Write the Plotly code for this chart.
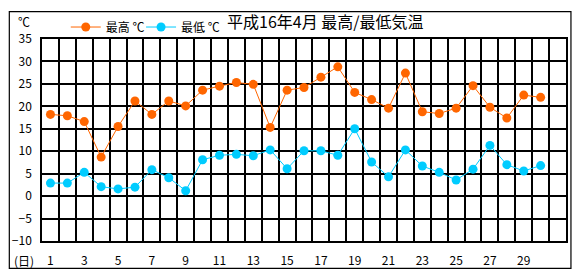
import plotly.graph_objects as go

days = list(range(1, 31))
highs = [18.2, 17.9, 16.6, 8.7, 15.5, 21.2, 18.2, 21.2, 20.1, 23.6,
         24.5, 25.3, 24.9, 15.3, 23.6, 24.2, 26.5, 28.8, 23.1, 21.5,
         19.6, 27.4, 18.8, 18.4, 19.6, 24.6, 19.8, 17.4, 22.5, 22.0]
lows = [2.9, 2.9, 5.3, 2.1, 1.6, 2.0, 5.9, 4.1, 1.2, 8.1,
        9.1, 9.3, 9.0, 10.3, 6.1, 10.1, 10.1, 9.1, 15.0, 7.6,
        4.3, 10.3, 6.7, 5.3, 3.6, 6.0, 11.3, 7.0, 5.6, 6.8]
x_tick_vals = list(range(1, 30, 2))
y_tick_vals = list(range(-10, 36, 5))
series_names = ["最高 ℃", "最低 ℃"]
title_text = "平成16年4月 最高/最低気温"

FONT = "Noto Sans CJK JP"
W, H = 580, 280
L, R, T, B = 38, 13, 37, 37
pw, ph = W - L - R, H - T - B

def px_to_paper_x(px):
    return (px - L) / pw

def px_to_paper_y(py):
    return (H - B - py) / ph

fig = go.Figure()
fig.add_trace(go.Scatter(x=days, y=highs, name=series_names[0], mode="lines+markers",
                         line=dict(color="#FF6600", width=1),
                         marker=dict(color="#FF6600", size=9, symbol="circle"),
                         legend="legend"))
fig.add_trace(go.Scatter(x=days, y=lows, name=series_names[1], mode="lines+markers",
                         line=dict(color="#00CCFF", width=1),
                         marker=dict(color="#00CCFF", size=9, symbol="circle"),
                         legend="legend2"))

leg_common = dict(orientation="h", xanchor="left", yanchor="top",
                  font=dict(family=FONT, size=12, color="black"),
                  bgcolor="rgba(0,0,0,0)", itemwidth=30)

fig.update_layout(
    width=W, height=H,
    margin=dict(l=L, r=R, t=T, b=B, pad=0),
    paper_bgcolor="white", plot_bgcolor="white",
    font=dict(family=FONT, size=12, color="black"),
    showlegend=True,
    legend=dict(x=px_to_paper_x(62), y=px_to_paper_y(10), **leg_common),
    legend2=dict(x=px_to_paper_x(138), y=px_to_paper_y(10), **leg_common),
    xaxis=dict(range=[0.5, 31.5], tickmode="array", tickvals=x_tick_vals,
               ticktext=[str(v) for v in x_tick_vals], showgrid=False,
               zeroline=False, ticks="", showline=True, linecolor="black",
               linewidth=1.5, mirror=True, ticklabelstandoff=8,
               tickfont=dict(family=FONT, size=12),
               minor=dict(tick0=0.5, dtick=1, showgrid=True,
                          gridcolor="black", gridwidth=1.5, ticks="")),
    yaxis=dict(range=[-10, 35], tickmode="array", tickvals=y_tick_vals,
               showgrid=True, gridcolor="black", gridwidth=1.5,
               zeroline=False, ticks="", showline=True, linecolor="black",
               linewidth=1.5, mirror=True, ticklabelstandoff=6,
               tickfont=dict(family=FONT, size=12)),
    shapes=[dict(type="rect", xref="paper", yref="paper",
                 x0=px_to_paper_x(5), x1=px_to_paper_x(572),
                 y0=px_to_paper_y(271), y1=px_to_paper_y(9),
                 line=dict(color="black", width=1.2), fillcolor="rgba(0,0,0,0)",
                 layer="below")],
    annotations=[
        dict(text="℃", xref="paper", yref="paper", x=px_to_paper_x(20),
             y=px_to_paper_y(19), showarrow=False, xanchor="center", yanchor="middle",
             font=dict(family=FONT, size=12)),
        dict(text="(日)", xref="paper", yref="paper", x=px_to_paper_x(20),
             y=px_to_paper_y(263), showarrow=False, xanchor="center", yanchor="middle",
             font=dict(family=FONT, size=12)),
        dict(text=title_text, xref="paper", yref="paper", x=px_to_paper_x(223),
             y=px_to_paper_y(19), showarrow=False, xanchor="left", yanchor="middle",
             font=dict(family=FONT, size=16)),
    ],
)

fig.write_html("out.html")
